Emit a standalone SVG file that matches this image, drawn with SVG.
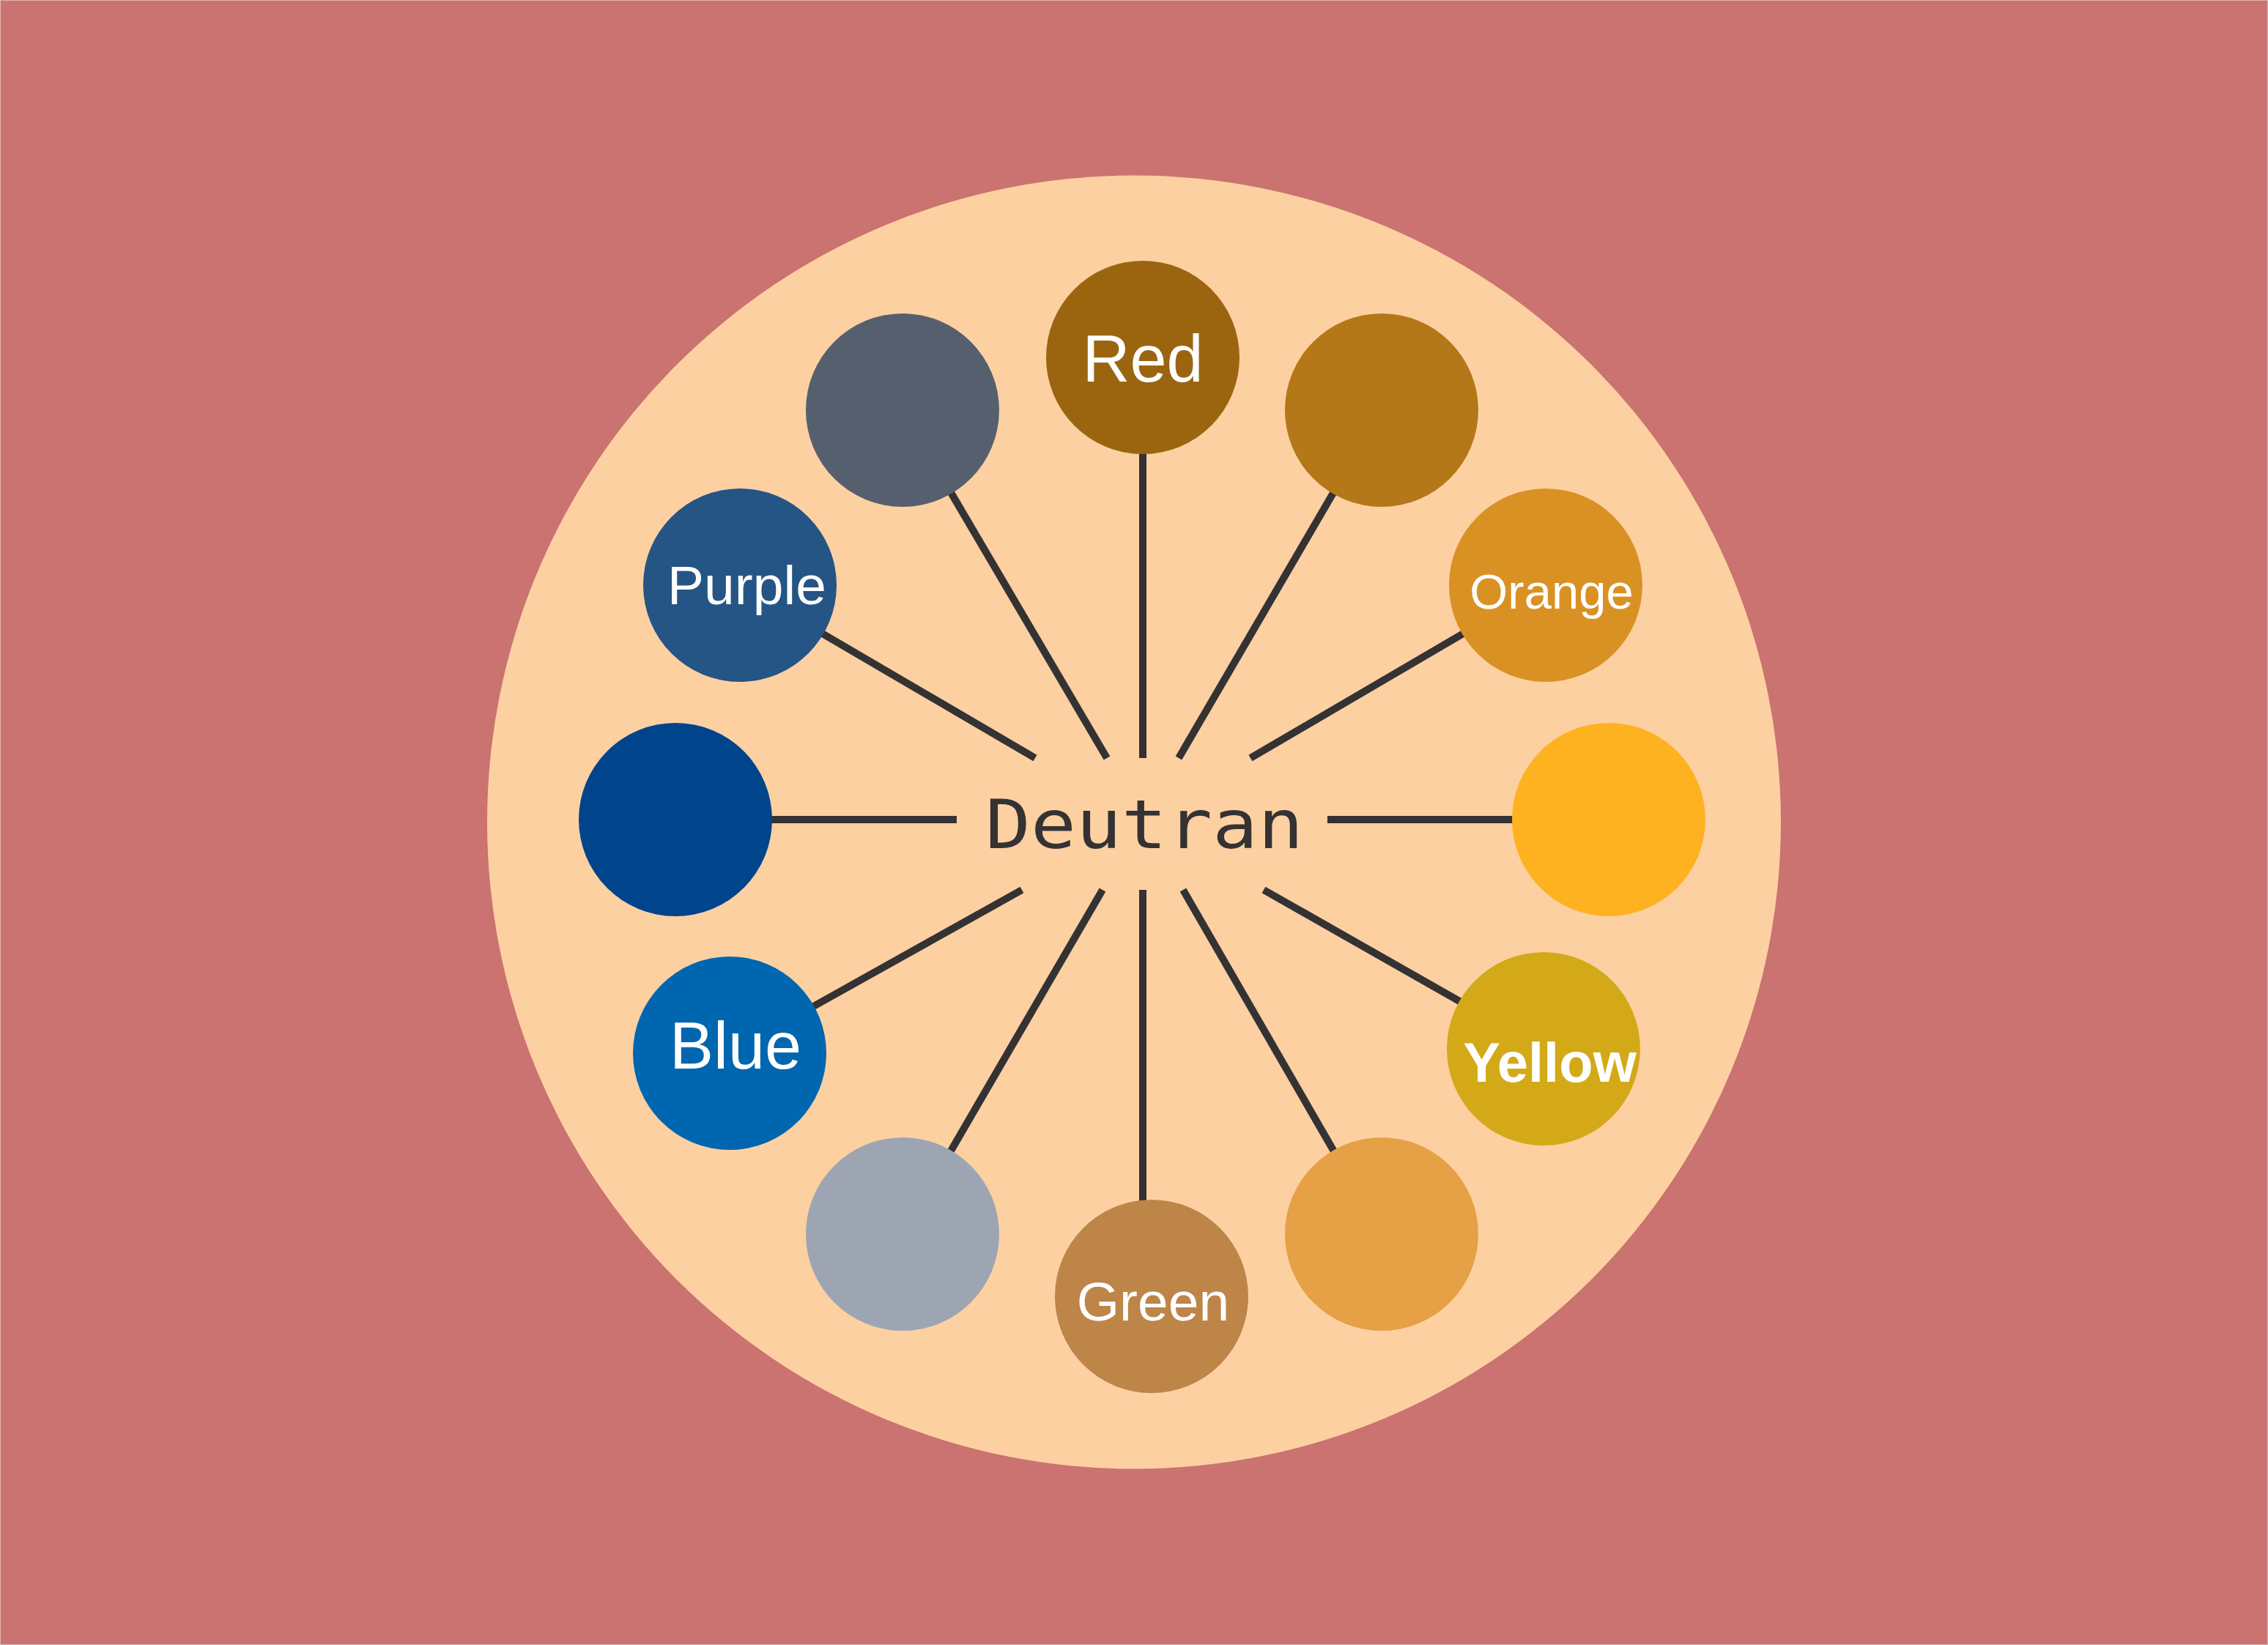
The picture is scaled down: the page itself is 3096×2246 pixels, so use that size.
<svg xmlns="http://www.w3.org/2000/svg" width="3096" height="2246" viewBox="0 0 3096 2246">
<style>
.lbl{font-family:"Liberation Sans",Arial,sans-serif;fill:#ffffff;text-anchor:middle}
.conn line{stroke:#343233;stroke-width:10;stroke-linecap:butt}
.hub{font-family:"DejaVu Sans Mono","Liberation Mono",monospace;fill:#343233}
</style>
<rect x="0.5" y="0.5" width="3095" height="2245" fill="#CA7370" stroke="#E3B5B3" stroke-width="1"/>
<circle cx="1548" cy="1122.5" r="883" fill="#FDD0A2"/>
<g id="connectors" class="conn">
<line x1="1560" y1="1035" x2="1560" y2="612"/>
<line x1="1511" y1="1035" x2="1295.8" y2="668.6"/>
<line x1="1609" y1="1035" x2="1822.5" y2="668.8"/>
<line x1="1413" y1="1035" x2="1118.7" y2="862.7"/>
<line x1="1707" y1="1035" x2="2001.3" y2="862.7"/>
<line x1="1306" y1="1119" x2="1048" y2="1119"/>
<line x1="1812" y1="1119" x2="2070" y2="1119"/>
<line x1="1395" y1="1215" x2="1106" y2="1376.5"/>
<line x1="1505" y1="1215" x2="1295.3" y2="1576"/>
<line x1="1560" y1="1215" x2="1560" y2="1650"/>
<line x1="1615" y1="1215" x2="1823.1" y2="1575.8"/>
<line x1="1725" y1="1215" x2="1997.4" y2="1369.8"/>
</g>
<g id="hub" transform="translate(1345,1158) scale(1.12,1)"><text class="hub" x="0" y="0" font-size="92">Deutran</text></g>
<g id="node-red"><circle cx="1560" cy="488" r="132" fill="#9B6510"/><text class="lbl" x="1560" y="521" font-size="90">Red</text></g>
<g id="node-gray"><circle cx="1232" cy="560" r="132" fill="#565F6E"/></g>
<g id="node-brown"><circle cx="1886" cy="560" r="132" fill="#B47818"/></g>
<g id="node-purple"><circle cx="1010" cy="799" r="132" fill="#245585"/><text class="lbl" x="1019.5" y="825" font-size="75">Purple</text></g>
<g id="node-orange"><circle cx="2110" cy="799" r="132" fill="#DA9124"/><text class="lbl" x="2118" y="831" font-size="67">Orange</text></g>
<g id="node-darkblue"><circle cx="922" cy="1119" r="132" fill="#00448C"/></g>
<g id="node-amber"><circle cx="2196" cy="1119" r="132" fill="#FEB220"/></g>
<g id="node-blue"><circle cx="996" cy="1438" r="132" fill="#0066B0"/><text class="lbl" x="1004" y="1459" font-size="90">Blue</text></g>
<g id="node-lightgray"><circle cx="1232" cy="1685" r="132" fill="#9DA5B3"/></g>
<g id="node-green"><circle cx="1572" cy="1770" r="132" fill="#BE8548"/><text class="lbl" x="1574" y="1803" font-size="75">Green</text></g>
<g id="node-lightorange"><circle cx="1886" cy="1685" r="132" fill="#E6A045"/></g>
<g id="node-yellow"><circle cx="2107" cy="1432" r="132" fill="#D4A917"/><text class="lbl" x="2115.5" y="1477" font-size="76" font-weight="bold">Yellow</text></g>
</svg>
